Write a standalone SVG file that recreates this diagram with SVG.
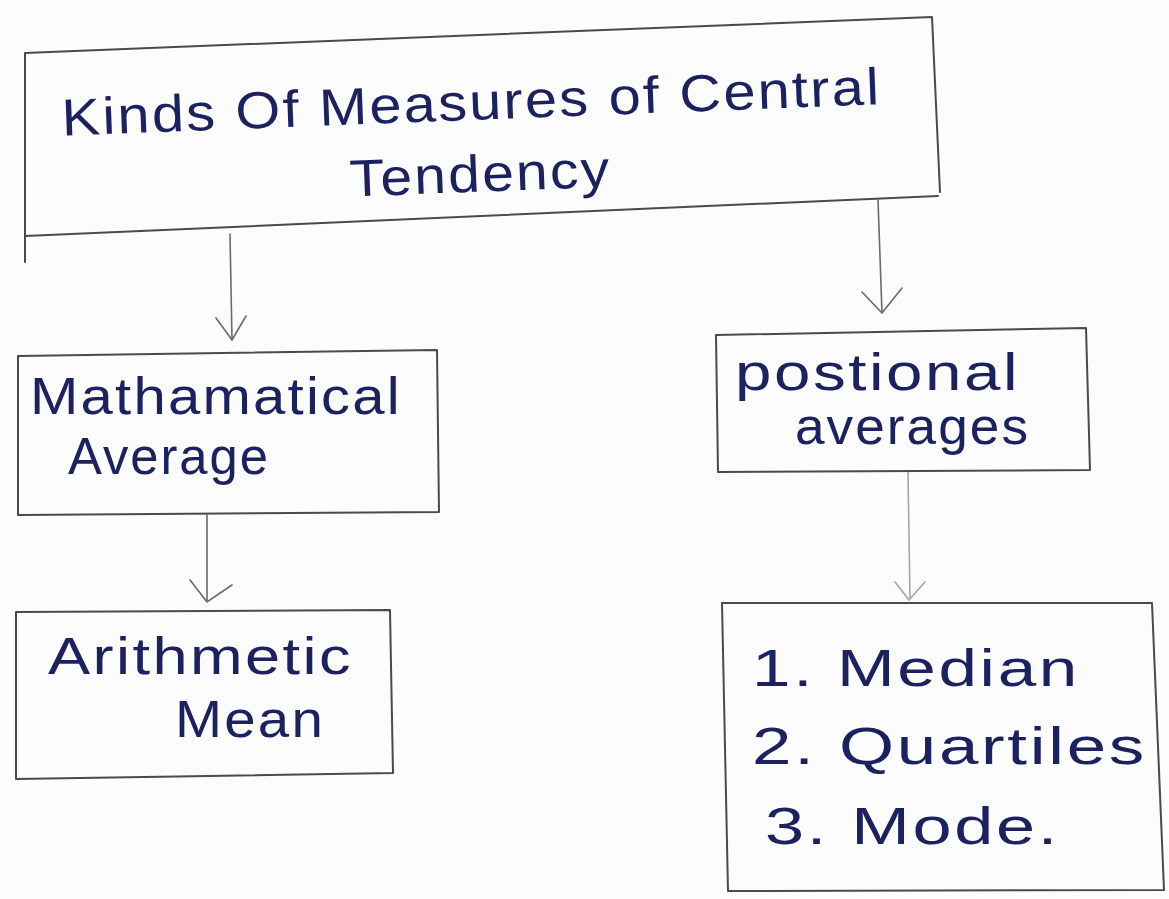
<svg xmlns="http://www.w3.org/2000/svg" width="1169" height="899" viewBox="0 0 1169 899">
<style>
.box{fill:none;stroke:#4a4a4a;stroke-width:2;stroke-linecap:round;stroke-linejoin:round}
.conn{fill:none;stroke:#6a6a6a;stroke-width:1.6;stroke-linecap:round}
.t{font-family:"Liberation Sans","DejaVu Sans",sans-serif;fill:#1c2160;font-size:52px;letter-spacing:2px}
</style>
<rect width="1169" height="899" fill="#fcfcfc"/>
<g id="connectors">
<path class="conn" d="M230,234 L232,340 M216,318 L232,340 L246,316"/>
<path class="conn" d="M878,200 L882,313 M862,292 L882,313 L902,288"/>
<path class="conn" d="M207,515 L207,600 M190,580 L207,602 L232,585"/>
<path class="conn" d="M908,472 L910,598 M895,582 L909,600 L925,582" stroke-opacity="0.6"/>
</g>
<g id="node-root">
<path class="box" d="M25,53 L932,17 L940,192 M938,196 L25,236 L25,262 M25,53 L25,236"/>
<text class="t" x="62" y="120" transform="rotate(-2.2 470 120)" textLength="820" lengthAdjust="spacingAndGlyphs">Kinds Of Measures of Central</text>
<text class="t" x="350" y="192" transform="rotate(-2.2 470 190)" textLength="262" lengthAdjust="spacingAndGlyphs">Tendency</text>
</g>
<g id="node-math">
<path class="box" d="M18,356 L437,350 L439,512 L18,515 Z"/>
<text class="t" x="30" y="414" textLength="372" lengthAdjust="spacingAndGlyphs">Mathamatical</text>
<text class="t" x="68" y="474" textLength="202" lengthAdjust="spacingAndGlyphs">Average</text>
</g>
<g id="node-arith">
<path class="box" d="M16,612 L390,610 L393,773 L16,779 Z"/>
<text class="t" x="48" y="674" textLength="305" lengthAdjust="spacingAndGlyphs">Arithmetic</text>
<text class="t" x="175" y="737" textLength="150" lengthAdjust="spacingAndGlyphs">Mean</text>
</g>
<g id="node-pos">
<path class="box" d="M716,335 L1086,328 L1090,470 L718,472 Z"/>
<text class="t" x="735" y="390" textLength="285" lengthAdjust="spacingAndGlyphs">postional</text>
<text class="t" x="795" y="444" textLength="235" lengthAdjust="spacingAndGlyphs">averages</text>
</g>
<g id="node-list">
<path class="box" d="M722,603 L1152,603 L1164,890 L728,891 Z"/>
<text class="t" x="752" y="686" textLength="328" lengthAdjust="spacingAndGlyphs">1. Median</text>
<text class="t" x="752" y="764" textLength="395" lengthAdjust="spacingAndGlyphs">2. Quartiles</text>
<text class="t" x="765" y="844" textLength="295" lengthAdjust="spacingAndGlyphs">3. Mode.</text>
</g>
</svg>
